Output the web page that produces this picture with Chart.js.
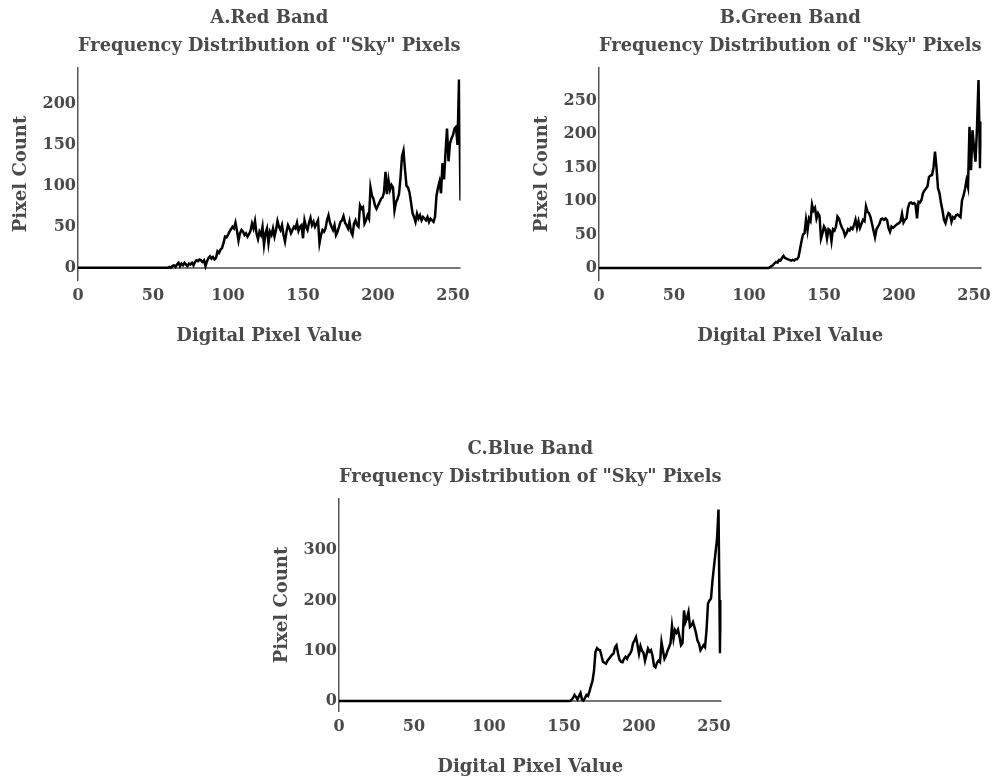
<!DOCTYPE html>
<html>
<head>
<meta charset="utf-8">
<script src="https://cdn.jsdelivr.net/npm/chart.js@4/dist/chart.umd.min.js"></script>
<style>
  body { margin: 0; background: #fff; }
  canvas { position: absolute; }
</style>
</head>
<body>
<canvas id="graficoRojo" width="490" height="360" style="left:0px;top:0px"></canvas>
<canvas id="graficoVerde" width="479" height="360" style="left:521px;top:0px"></canvas>
<canvas id="graficoAzul" width="490" height="360" style="left:261px;top:431px"></canvas>
<script>
const FUENTE = "'DejaVu Serif', serif";
const TEXTO = '#4a4a4a';

// pixel counts per digital value 0..255
const redCounts = [
  0,0,0,0,0,0,0,0,0,0, 0,0,0,0,0,0,0,0,0,0,
  0,0,0,0,0,0,0,0,0,0, 0,0,0,0,0,0,0,0,0,0,
  0,0,0,0,0,0,0,0,0,0, 0,0,0,0,0,0,0,0,0,0,
  0,1,0,2,3,1,4,6,2,5,
  3,6,4,2,5,4,6,3,7,9,
  8,10,9,7,9,2,8,12,14,11,
  13,10,12,20,18,22,24,30,38,37,
  40,44,47,50,48,55,45,33,42,46,
  44,40,42,38,41,45,54,48,57,42,
  35,44,40,50,28,42,48,30,44,40,
  48,38,46,57,50,46,52,40,32,44,
  52,48,42,46,50,48,55,45,50,52,
  36,58,50,46,55,61,52,56,50,54,
  58,30,40,46,44,48,58,64,55,50,
  46,52,40,44,50,56,58,63,55,52,
  48,56,44,40,54,58,52,50,76,72,
  74,54,58,64,60,98,88,84,76,72,
  76,80,84,86,92,117,90,107,95,101,
  98,70,80,84,90,110,136,143,120,100,
  98,92,80,67,62,56,66,60,64,58,
  62,60,58,62,56,60,58,56,62,88,
  98,105,91,128,108,140,170,130,152,158,
  162,170,172,150,230,82
];

const greenCounts = [
  0,0,0,0,0,0,0,0,0,0, 0,0,0,0,0,0,0,0,0,0,
  0,0,0,0,0,0,0,0,0,0, 0,0,0,0,0,0,0,0,0,0,
  0,0,0,0,0,0,0,0,0,0, 0,0,0,0,0,0,0,0,0,0,
  0,0,0,0,0,0,0,0,0,0, 0,0,0,0,0,0,0,0,0,0,
  0,0,0,0,0,0,0,0,0,0, 0,0,0,0,0,0,0,0,0,0,
  0,0,0,0,0,0,0,0,0,0,
  0,0,0,0,1,3,4,7,9,8,
  12,11,15,18,15,14,13,12,11,12,
  11,13,13,16,28,40,50,52,72,56,
  74,70,95,86,90,74,82,78,44,52,
  62,58,44,58,56,40,58,56,62,77,
  74,66,60,56,48,52,58,56,60,58,
  64,72,60,70,60,66,72,70,92,84,
  82,76,66,56,46,58,62,66,73,74,
  72,74,72,60,54,62,60,62,64,66,
  67,70,81,68,72,74,90,97,98,96,
  97,95,74,99,98,102,112,116,119,122,
  136,138,139,150,174,150,119,112,97,86,
  72,67,76,82,80,69,76,74,79,80,
  78,76,101,108,118,131,121,211,146,206,
  180,159,210,281,149,219
];

const blueCounts = [
  0,0,0,0,0,0,0,0,0,0, 0,0,0,0,0,0,0,0,0,0,
  0,0,0,0,0,0,0,0,0,0, 0,0,0,0,0,0,0,0,0,0,
  0,0,0,0,0,0,0,0,0,0, 0,0,0,0,0,0,0,0,0,0,
  0,0,0,0,0,0,0,0,0,0, 0,0,0,0,0,0,0,0,0,0,
  0,0,0,0,0,0,0,0,0,0, 0,0,0,0,0,0,0,0,0,0,
  0,0,0,0,0,0,0,0,0,0, 0,0,0,0,0,0,0,0,0,0,
  0,0,0,0,0,0,0,0,0,0, 0,0,0,0,0,0,0,0,0,0,
  0,0,0,0,0,0,0,0,0,0,
  0,0,0,0,0,2,6,12,8,3,
  10,16,3,1,6,12,10,19,30,40,
  60,98,105,102,101,90,78,76,74,80,
  84,88,92,94,107,111,95,82,78,77,
  84,88,84,90,94,100,115,120,127,112,
  94,109,100,96,80,92,104,98,101,90,
  70,67,76,80,77,117,100,84,90,100,
  107,115,149,124,141,136,142,128,111,115,
  180,157,165,177,147,150,157,147,135,120,
  114,101,106,111,107,140,194,200,204,240,
  268,295,322,381,95,201
];

const xTicks = [0, 50, 100, 150, 200, 250];
const redTicks = [0, 50, 100, 150, 200];
const greenTicks = [0, 50, 100, 150, 200, 250];
const blueTicks = [0, 100, 200, 300];

const redRange = [-15, 244];
const greenRange = [-18, 299];
const blueRange = [-20, 402];

function crearGrafico(id, titulo, counts, yTicks, yRange, padDerecha) {
  const ctx = document.getElementById(id).getContext('2d');
  return new Chart(ctx, {
    type: 'line',
    data: {
      datasets: [{
        data: counts.map((c, i) => ({ x: i, y: c })),
        borderColor: '#000',
        borderWidth: 2.5,
        pointRadius: 0,
        fill: false,
        tension: 0
      }]
    },
    options: {
      responsive: false,
      animation: false,
      layout: { padding: { left: 0, right: padDerecha, top: 0, bottom: 0 } },
      plugins: {
        legend: { display: false },
        tooltip: { enabled: false },
        title: {
          display: true,
          fullSize: false,
          text: [titulo, 'Frequency Distribution of "Sky" Pixels'],
          color: TEXTO,
          font: { family: FUENTE, size: 18, weight: 'bold', lineHeight: 28 / 18 },
          padding: { top: 4, bottom: 8 }
        }
      },
      scales: {
        x: {
          type: 'linear',
          min: 0,
          max: 255,
          afterBuildTicks: s => { s.ticks = xTicks.map(v => ({ value: v })); },
          afterFit: s => { s.height = 80; },
          grid: { display: false, drawTicks: false },
          border: { display: false },
          ticks: { color: TEXTO, font: { family: FUENTE, size: 16, weight: 'bold' }, padding: 6, autoSkip: false, maxRotation: 0 },
          title: {
            display: true,
            text: 'Digital Pixel Value',
            color: TEXTO,
            font: { family: FUENTE, size: 18, weight: 'bold' },
            padding: { top: 0, bottom: 13 }
          }
        },
        y: {
          min: yRange[0],
          max: yRange[1],
          afterBuildTicks: s => { s.ticks = yTicks.map(v => ({ value: v })); },
          afterFit: s => { s.width = 78; },
          grid: {
            drawTicks: false,
            lineWidth: 2,
            color: c => (c.tick && c.tick.value === 0 ? '#777' : 'rgba(0,0,0,0)')
          },
          border: { display: true, color: '#555', width: 1.5 },
          ticks: { color: TEXTO, font: { family: FUENTE, size: 16, weight: 'bold' }, padding: 2 },
          title: {
            display: true,
            text: 'Pixel Count',
            color: TEXTO,
            font: { family: FUENTE, size: 18, weight: 'bold' },
            padding: { top: 11, bottom: 0 }
          }
        }
      }
    }
  });
}

crearGrafico('graficoRojo', 'A.Red Band', redCounts, redTicks, redRange, 29.5);
crearGrafico('graficoVerde', 'B.Green Band', greenCounts, greenTicks, greenRange, 18.5);
crearGrafico('graficoAzul', 'C.Blue Band', blueCounts, blueTicks, blueRange, 29.5);
</script>
</body>
</html>
